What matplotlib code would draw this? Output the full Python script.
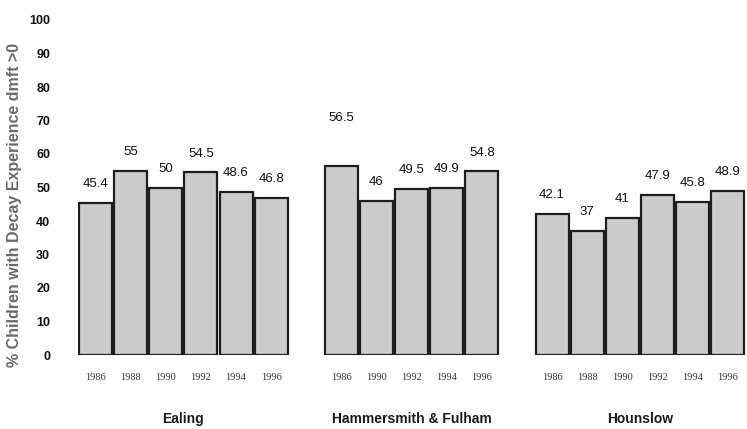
import matplotlib
matplotlib.use("Agg")
import matplotlib.pyplot as plt

# Data per district
districts = ["Ealing", "Hammersmith & Fulham", "Hounslow"]
ealing_years = ["1986", "1988", "1990", "1992", "1994", "1996"]
ealing_values = [45.4, 55, 50, 54.5, 48.6, 46.8]
hf_years = ["1986", "1990", "1992", "1994", "1996"]
hf_values = [56.5, 46, 49.5, 49.9, 54.8]
hounslow_years = ["1986", "1988", "1990", "1992", "1994", "1996"]
hounslow_values = [42.1, 37, 41, 47.9, 45.8, 48.9]
y_ticks = [0, 10, 20, 30, 40, 50, 60, 70, 80, 90, 100]

groups = [(ealing_years, ealing_values),
          (hf_years, hf_values),
          (hounslow_years, hounslow_values)]

plt.rcParams["font.family"] = ["Liberation Sans", "DejaVu Sans"]

fig = plt.figure(figsize=(7.47, 4.29), dpi=100)
ax = fig.add_axes([78 / 747, 74 / 429, 1 - 78 / 747, 335 / 429])

pos = 0
group_centers = []
for gi, (years, vals) in enumerate(groups):
    xs = list(range(pos, pos + len(years)))
    ax.bar(xs, vals, width=0.94, color="#cbcbcb", edgecolor="#1e1e1e",
           linewidth=1.6, zorder=2)
    for x, v, yr in zip(xs, vals, years):
        lift = 12.5 if v == 56.5 and gi == 1 else 3.8
        ax.text(x, v + lift, f"{v:g}", ha="center", va="bottom",
                fontsize=9.5, color="#111111")
        ax.text(x, -6.8, yr, ha="center", va="center", fontsize=7.5,
                family="Liberation Serif", color="#333333")
    group_centers.append((xs[0] + xs[-1]) / 2)
    pos += len(years) + 1

for c, name in zip(group_centers, districts):
    ax.text(c, -19, name, ha="center", va="center", fontsize=10,
            fontweight="bold", color="#1a1a1a")

ax.set_xlim(-0.5, 18.55)
ax.set_ylim(0, 100)
ax.set_yticks(y_ticks)
ax.set_yticklabels([str(t) for t in y_ticks], fontsize=9, color="#111111",
                   fontweight="bold")
ax.tick_params(axis="y", length=0, pad=20)
ax.set_xticks([])
for s in ax.spines.values():
    s.set_visible(False)

fig.text(15 / 747, 1 - 205 / 429, "% Children with Decay Experience dmft >0",
         rotation=90, ha="center", va="center", fontsize=11.5,
         fontweight="bold", color="#6a6a6a")

fig.savefig("out.png", dpi=100)
